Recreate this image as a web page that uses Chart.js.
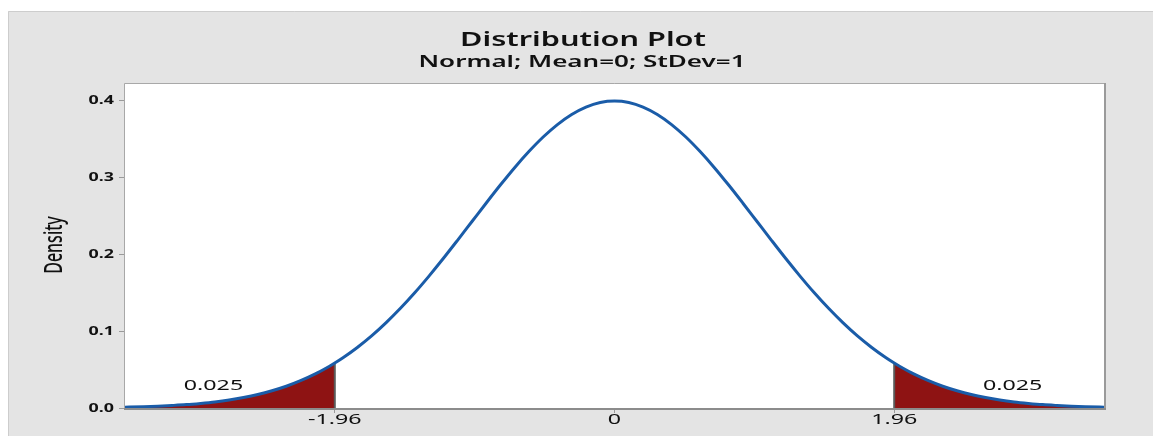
<!DOCTYPE html>
<html>
<head>
<meta charset="utf-8">
<script src="https://cdn.jsdelivr.net/npm/chart.js@4"></script>
<style>
html,body{margin:0;padding:0;background:#fff;}
canvas{display:block;}
</style>
</head>
<body>
<canvas id="c" width="1153" height="436"></canvas>
<script>
// ---- data ----
const titleText = 'Distribution Plot';
const subtitleText = 'Normal; Mean=0; StDev=1';
const yAxisTitle = 'Density';
const xValues = [-3.5,-3.4,-3.3,-3.2,-3.1,-3.0,-2.9,-2.8,-2.7,-2.6,-2.5,-2.4,-2.3,-2.2,-2.1,-2.0,-1.96,-1.9,-1.8,-1.7,-1.6,-1.5,-1.4,-1.3,-1.2,-1.1,-1.0,-0.9,-0.8,-0.7,-0.6,-0.5,-0.4,-0.3,-0.2,-0.1,0,0.1,0.2,0.3,0.4,0.5,0.6,0.7,0.8,0.9,1.0,1.1,1.2,1.3,1.4,1.5,1.6,1.7,1.8,1.9,1.96,2.0,2.1,2.2,2.3,2.4,2.5,2.6,2.7,2.8,2.9,3.0,3.1,3.2,3.3,3.4,3.5];
const density = [0.0009,0.0012,0.0017,0.0024,0.0033,0.0044,0.0060,0.0079,0.0104,0.0136,0.0175,0.0224,0.0283,0.0355,0.0440,0.0540,0.0584,0.0656,0.0790,0.0940,0.1109,0.1295,0.1497,0.1714,0.1942,0.2179,0.2420,0.2661,0.2897,0.3123,0.3332,0.3521,0.3683,0.3814,0.3910,0.3970,0.3989,0.3970,0.3910,0.3814,0.3683,0.3521,0.3332,0.3123,0.2897,0.2661,0.2420,0.2179,0.1942,0.1714,0.1497,0.1295,0.1109,0.0940,0.0790,0.0656,0.0584,0.0540,0.0440,0.0355,0.0283,0.0224,0.0175,0.0136,0.0104,0.0079,0.0060,0.0044,0.0033,0.0024,0.0017,0.0012,0.0009];
const criticalLow = -1.96;
const criticalHigh = 1.96;
const tailLabels = ['0.025','0.025'];
const tailLabelX = [-2.81, 2.79];
const tailLabelY = [0.0235, 0.0235];
const xTickValues = [-1.96, 0, 1.96];
const xTickLabels = ['-1.96', '0', '1.96'];
const yTickValues = [0, 0.1, 0.2, 0.3, 0.4];
const yTickLabels = ['0.0', '0.1', '0.2', '0.3', '0.4'];
const xMin = -3.43, xMax = 3.43, yMin = 0, yMax = 0.421;

// ---- derived ----
const curvePts = xValues.map((x,i)=>({x, y: density[i]}));
const leftTail = curvePts.filter(p => p.x <= criticalLow);
const rightTail = curvePts.filter(p => p.x >= criticalHigh);
const dLow = density[xValues.indexOf(criticalLow)];
const dHigh = density[xValues.indexOf(criticalHigh)];

const SX = 1.55;
const FAM = '"Noto Sans", "Open Sans", sans-serif';
function sText(ctx, txt, x, y, font, color, align){
  ctx.save();
  ctx.font = font; ctx.fillStyle = color; ctx.textBaseline = 'alphabetic'; ctx.textAlign = 'left';
  const w = ctx.measureText(txt).width * SX;
  const left = align === 'center' ? x - w/2 : align === 'right' ? x - w : x;
  ctx.translate(left, y); ctx.scale(SX, 1);
  ctx.fillText(txt, 0, 0);
  ctx.restore();
}

const decor = {
  id: 'decor',
  beforeDraw(chart){
    const ctx = chart.ctx, a = chart.chartArea;
    ctx.save();
    ctx.fillStyle = '#ffffff'; ctx.fillRect(0,0,chart.width,chart.height);
    ctx.fillStyle = '#e4e4e4'; ctx.fillRect(8,11,chart.width-8,chart.height-11);
    ctx.strokeStyle = '#cdcdcd'; ctx.lineWidth = 1;
    ctx.beginPath(); ctx.moveTo(8.5,chart.height); ctx.lineTo(8.5,11.5); ctx.lineTo(chart.width,11.5); ctx.stroke();
    ctx.fillStyle = '#ffffff'; ctx.fillRect(a.left, a.top, a.right-a.left, a.bottom-a.top);
    ctx.restore();
  },
  afterDraw(chart){
    const ctx = chart.ctx, a = chart.chartArea;
    const xs = chart.scales.x, ys = chart.scales.y;
    ctx.save();
    ctx.strokeStyle = '#a8a8a8'; ctx.lineWidth = 1;
    ctx.beginPath(); ctx.moveTo(a.left-0.5, a.bottom); ctx.lineTo(a.left-0.5, a.top-0.5); ctx.lineTo(a.right, a.top-0.5); ctx.stroke();
    ctx.strokeStyle = '#9a9a9a'; ctx.lineWidth = 2;
    ctx.beginPath(); ctx.moveTo(a.right+1, a.top-1); ctx.lineTo(a.right+1, a.bottom+1); ctx.stroke();
    ctx.strokeStyle = '#8c8c8c'; ctx.lineWidth = 2;
    ctx.beginPath(); ctx.moveTo(a.left-1, a.bottom+1); ctx.lineTo(a.right+2, a.bottom+1); ctx.stroke();
    ctx.restore();
    sText(ctx, titleText, 583, 46, '600 19.8px ' + FAM, '#111', 'center');
    sText(ctx, subtitleText, 582, 67, '600 16.8px ' + FAM, '#111', 'center');
    yTickValues.forEach((v,i)=>{
      sText(ctx, yTickLabels[i], 114, ys.getPixelForValue(v) + 4, '700 11.5px ' + FAM, '#111', 'right');
    });
    xTickValues.forEach((v,i)=>{
      sText(ctx, xTickLabels[i], xs.getPixelForValue(v), 424, '400 15px ' + FAM, '#111', 'center');
    });
    tailLabels.forEach((t,i)=>{
      sText(ctx, t, xs.getPixelForValue(tailLabelX[i]), ys.getPixelForValue(tailLabelY[i]), '400 15px ' + FAM, '#111', 'center');
    });
    ctx.save();
    ctx.translate(62, 245);
    ctx.rotate(-Math.PI/2);
    ctx.scale(1, SX);
    ctx.font = '500 16px ' + FAM; ctx.fillStyle = '#111'; ctx.textAlign = 'center'; ctx.textBaseline = 'alphabetic';
    ctx.fillText(yAxisTitle, 0, 0);
    ctx.restore();
  }
};

new Chart(document.getElementById('c'), {
  type: 'scatter',
  data: {
    datasets: [
      { data: curvePts, showLine: true, borderColor: '#1a5ca8', borderWidth: 3, pointRadius: 0, tension: 0.4, cubicInterpolationMode: 'monotone', fill: false, order: 0 },
      { data: [{x: criticalLow, y: 0}, {x: criticalLow, y: dLow}], showLine: true, borderColor: '#5a5a5a', borderWidth: 2, pointRadius: 0, fill: false, order: 1 },
      { data: [{x: criticalHigh, y: 0}, {x: criticalHigh, y: dHigh}], showLine: true, borderColor: '#5a5a5a', borderWidth: 2, pointRadius: 0, fill: false, order: 1 },
      { data: leftTail, showLine: true, borderWidth: 0, borderColor: 'rgba(0,0,0,0)', backgroundColor: '#8e1313', pointRadius: 0, tension: 0.4, cubicInterpolationMode: 'monotone', fill: 'origin', order: 2 },
      { data: rightTail, showLine: true, borderWidth: 0, borderColor: 'rgba(0,0,0,0)', backgroundColor: '#8e1313', pointRadius: 0, tension: 0.4, cubicInterpolationMode: 'monotone', fill: 'origin', order: 2 }
    ]
  },
  options: {
    responsive: false,
    animation: false,
    devicePixelRatio: 1,
    layout: { padding: { left: 0, top: 84, right: 49, bottom: 0 } },
    plugins: { legend: { display: false }, tooltip: { enabled: false }, title: { display: false } },
    scales: {
      x: {
        type: 'linear', min: xMin, max: xMax,
        grid: { drawOnChartArea: false, drawTicks: true, tickLength: 5, color: '#9a9a9a' },
        border: { display: false },
        ticks: { display: false },
        afterBuildTicks: s => { s.ticks = xTickValues.map(v => ({ value: v })); },
        afterFit: s => { s.height = 28; }
      },
      y: {
        type: 'linear', min: yMin, max: yMax,
        grid: { drawOnChartArea: false, drawTicks: true, tickLength: 6, color: '#9a9a9a' },
        border: { display: false },
        ticks: { display: false },
        afterBuildTicks: s => { s.ticks = yTickValues.map(v => ({ value: v })); },
        afterFit: s => { s.width = 125; }
      }
    }
  },
  plugins: [decor]
});
</script>
</body>
</html>
